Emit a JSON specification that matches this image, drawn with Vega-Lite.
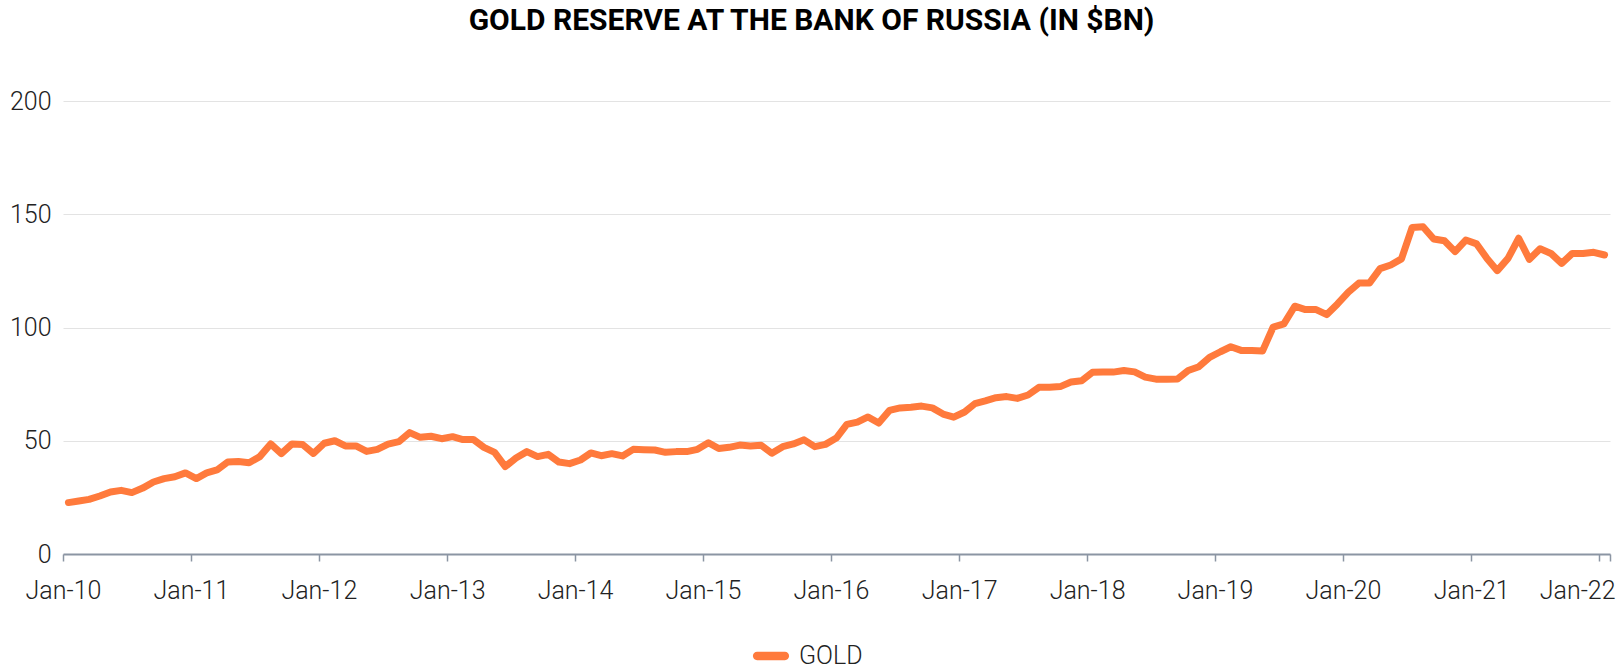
{
  "$schema": "https://vega.github.io/schema/vega-lite/v6.json",
  "autosize": {"type": "none"},
  "width": 1547,
  "height": 453,
  "padding": {"left": 63, "top": 101, "right": 12, "bottom": 118},
  "background": "white",
  "config": {
    "font": "Roboto",
    "view": {"stroke": null}
  },
  "title": {
    "text": "GOLD RESERVE AT THE BANK OF RUSSIA (IN $BN)",
    "font": "Roboto",
    "fontSize": 30,
    "fontWeight": "bold",
    "color": "#000000",
    "anchor": "middle",
    "dx": -25,
    "offset": 53
  },
  "data": {
    "values": [
      {"date": "2010-01-01", "gold": 22.7}, {"date": "2010-02-01", "gold": 23.4}, {"date": "2010-03-01", "gold": 24.1}, {"date": "2010-04-01", "gold": 25.6}, {"date": "2010-05-01", "gold": 27.4}, {"date": "2010-06-01", "gold": 28.1}, {"date": "2010-07-01", "gold": 27.1}, {"date": "2010-08-01", "gold": 29.1}, {"date": "2010-09-01", "gold": 31.8}, {"date": "2010-10-01", "gold": 33.3}, {"date": "2010-11-01", "gold": 34.1}, {"date": "2010-12-01", "gold": 35.8},
      {"date": "2011-01-01", "gold": 33.3}, {"date": "2011-02-01", "gold": 35.8}, {"date": "2011-03-01", "gold": 37.1}, {"date": "2011-04-01", "gold": 40.6}, {"date": "2011-05-01", "gold": 40.8}, {"date": "2011-06-01", "gold": 40.3}, {"date": "2011-07-01", "gold": 43.0}, {"date": "2011-08-01", "gold": 48.6}, {"date": "2011-09-01", "gold": 44.3}, {"date": "2011-10-01", "gold": 48.6}, {"date": "2011-11-01", "gold": 48.3}, {"date": "2011-12-01", "gold": 44.4},
      {"date": "2012-01-01", "gold": 48.9}, {"date": "2012-02-01", "gold": 50.0}, {"date": "2012-03-01", "gold": 47.7}, {"date": "2012-04-01", "gold": 47.7}, {"date": "2012-05-01", "gold": 45.3}, {"date": "2012-06-01", "gold": 46.2}, {"date": "2012-07-01", "gold": 48.5}, {"date": "2012-08-01", "gold": 49.6}, {"date": "2012-09-01", "gold": 53.6}, {"date": "2012-10-01", "gold": 51.5}, {"date": "2012-11-01", "gold": 52.0}, {"date": "2012-12-01", "gold": 50.9},
      {"date": "2013-01-01", "gold": 51.8}, {"date": "2013-02-01", "gold": 50.5}, {"date": "2013-03-01", "gold": 50.6}, {"date": "2013-04-01", "gold": 47.1}, {"date": "2013-05-01", "gold": 44.9}, {"date": "2013-06-01", "gold": 38.6}, {"date": "2013-07-01", "gold": 42.4}, {"date": "2013-08-01", "gold": 45.2}, {"date": "2013-09-01", "gold": 43.0}, {"date": "2013-10-01", "gold": 44.0}, {"date": "2013-11-01", "gold": 40.6}, {"date": "2013-12-01", "gold": 39.9},
      {"date": "2014-01-01", "gold": 41.5}, {"date": "2014-02-01", "gold": 44.6}, {"date": "2014-03-01", "gold": 43.4}, {"date": "2014-04-01", "gold": 44.3}, {"date": "2014-05-01", "gold": 43.3}, {"date": "2014-06-01", "gold": 46.2}, {"date": "2014-07-01", "gold": 46.0}, {"date": "2014-08-01", "gold": 45.9}, {"date": "2014-09-01", "gold": 44.9}, {"date": "2014-10-01", "gold": 45.2}, {"date": "2014-11-01", "gold": 45.2}, {"date": "2014-12-01", "gold": 46.2},
      {"date": "2015-01-01", "gold": 49.1}, {"date": "2015-02-01", "gold": 46.6}, {"date": "2015-03-01", "gold": 47.1}, {"date": "2015-04-01", "gold": 48.1}, {"date": "2015-05-01", "gold": 47.7}, {"date": "2015-06-01", "gold": 48.0}, {"date": "2015-07-01", "gold": 44.5}, {"date": "2015-08-01", "gold": 47.4}, {"date": "2015-09-01", "gold": 48.6}, {"date": "2015-10-01", "gold": 50.4}, {"date": "2015-11-01", "gold": 47.4}, {"date": "2015-12-01", "gold": 48.4},
      {"date": "2016-01-01", "gold": 51.2}, {"date": "2016-02-01", "gold": 57.2}, {"date": "2016-03-01", "gold": 58.2}, {"date": "2016-04-01", "gold": 60.5}, {"date": "2016-05-01", "gold": 57.8}, {"date": "2016-06-01", "gold": 63.4}, {"date": "2016-07-01", "gold": 64.5}, {"date": "2016-08-01", "gold": 64.8}, {"date": "2016-09-01", "gold": 65.3}, {"date": "2016-10-01", "gold": 64.5}, {"date": "2016-11-01", "gold": 61.8}, {"date": "2016-12-01", "gold": 60.4},
      {"date": "2017-01-01", "gold": 62.7}, {"date": "2017-02-01", "gold": 66.4}, {"date": "2017-03-01", "gold": 67.6}, {"date": "2017-04-01", "gold": 69.0}, {"date": "2017-05-01", "gold": 69.5}, {"date": "2017-06-01", "gold": 68.7}, {"date": "2017-07-01", "gold": 70.2}, {"date": "2017-08-01", "gold": 73.6}, {"date": "2017-09-01", "gold": 73.6}, {"date": "2017-10-01", "gold": 73.9}, {"date": "2017-11-01", "gold": 75.9}, {"date": "2017-12-01", "gold": 76.5},
      {"date": "2018-01-01", "gold": 80.2}, {"date": "2018-02-01", "gold": 80.4}, {"date": "2018-03-01", "gold": 80.3}, {"date": "2018-04-01", "gold": 81.0}, {"date": "2018-05-01", "gold": 80.4}, {"date": "2018-06-01", "gold": 78.1}, {"date": "2018-07-01", "gold": 77.2}, {"date": "2018-08-01", "gold": 77.2}, {"date": "2018-09-01", "gold": 77.3}, {"date": "2018-10-01", "gold": 81.0}, {"date": "2018-11-01", "gold": 82.7}, {"date": "2018-12-01", "gold": 86.8},
      {"date": "2019-01-01", "gold": 89.3}, {"date": "2019-02-01", "gold": 91.5}, {"date": "2019-03-01", "gold": 89.9}, {"date": "2019-04-01", "gold": 89.8}, {"date": "2019-05-01", "gold": 89.6}, {"date": "2019-06-01", "gold": 100.2}, {"date": "2019-07-01", "gold": 101.6}, {"date": "2019-08-01", "gold": 109.4}, {"date": "2019-09-01", "gold": 107.9}, {"date": "2019-10-01", "gold": 107.9}, {"date": "2019-11-01", "gold": 105.7}, {"date": "2019-12-01", "gold": 110.4},
      {"date": "2020-01-01", "gold": 115.6}, {"date": "2020-02-01", "gold": 119.6}, {"date": "2020-03-01", "gold": 119.6}, {"date": "2020-04-01", "gold": 126.0}, {"date": "2020-05-01", "gold": 127.6}, {"date": "2020-06-01", "gold": 130.3}, {"date": "2020-07-01", "gold": 144.2}, {"date": "2020-08-01", "gold": 144.5}, {"date": "2020-09-01", "gold": 139.1}, {"date": "2020-10-01", "gold": 138.3}, {"date": "2020-11-01", "gold": 133.5}, {"date": "2020-12-01", "gold": 138.6},
      {"date": "2021-01-01", "gold": 136.9}, {"date": "2021-02-01", "gold": 130.5}, {"date": "2021-03-01", "gold": 125.1}, {"date": "2021-04-01", "gold": 130.5}, {"date": "2021-05-01", "gold": 139.4}, {"date": "2021-06-01", "gold": 130.1}, {"date": "2021-07-01", "gold": 134.8}, {"date": "2021-08-01", "gold": 132.7}, {"date": "2021-09-01", "gold": 128.3}, {"date": "2021-10-01", "gold": 132.7}, {"date": "2021-11-01", "gold": 132.7}, {"date": "2021-12-01", "gold": 133.2},
      {"date": "2022-01-01", "gold": 132.0}
    ]
  },
  "mark": {"type": "line", "strokeWidth": 7, "strokeJoin": "round", "strokeCap": "round"},
  "encoding": {
    "x": {
      "field": "date",
      "type": "temporal",
      "timeUnit": "utcyearmonth",
      "bandPosition": 0.5,
      "title": null,
      "scale": {
        "type": "utc",
        "domain": [
          {"year": 2010, "month": 1, "date": 1, "utc": true},
          {"year": 2022, "month": 2, "date": 1, "utc": true}
        ]
      },
      "axis": {
        "values": [
          {"year": 2010, "month": 1, "date": 1, "utc": true},
          {"year": 2011, "month": 1, "date": 1, "utc": true},
          {"year": 2012, "month": 1, "date": 1, "utc": true},
          {"year": 2013, "month": 1, "date": 1, "utc": true},
          {"year": 2014, "month": 1, "date": 1, "utc": true},
          {"year": 2015, "month": 1, "date": 1, "utc": true},
          {"year": 2016, "month": 1, "date": 1, "utc": true},
          {"year": 2017, "month": 1, "date": 1, "utc": true},
          {"year": 2018, "month": 1, "date": 1, "utc": true},
          {"year": 2019, "month": 1, "date": 1, "utc": true},
          {"year": 2020, "month": 1, "date": 1, "utc": true},
          {"year": 2021, "month": 1, "date": 1, "utc": true},
          {"year": 2022, "month": 1, "date": 1, "utc": true},
          {"year": 2022, "month": 2, "date": 1, "utc": true}
        ],
        "labelExpr": "utcmonth(datum.value) == 0 ? utcFormat(datum.value, '%b-%y') : ''",
        "grid": false,
        "domainColor": "#8b95a3",
        "domainWidth": 2,
        "tickColor": "#8b95a3",
        "tickWidth": 1.5,
        "tickSize": 7,
        "labelFont": "Roboto",
        "labelFontSize": 25,
        "labelFontWeight": 300,
        "labelColor": "#222222",
        "labelPadding": 17,
        "labelOverlap": false,
        "labelFlush": false,
        "labelOffset": {"condition": {"test": "utcyear(datum.value) == 2022", "value": -22}, "value": 0}
      }
    },
    "y": {
      "field": "gold",
      "type": "quantitative",
      "title": null,
      "scale": {"domain": [0, 200], "nice": false, "zero": true},
      "axis": {
        "values": [0, 50, 100, 150, 200],
        "domain": false,
        "ticks": false,
        "gridColor": "#e3e3e3",
        "gridWidth": 1,
        "labelFont": "Roboto",
        "labelFontSize": 25,
        "labelFontWeight": 300,
        "labelColor": "#222222",
        "labelPadding": 12
      }
    },
    "color": {
      "datum": "GOLD",
      "scale": {"range": ["#ff7a3c"]},
      "legend": {
        "title": null,
        "orient": "none",
        "legendX": 680,
        "legendY": 527,
        "direction": "horizontal",
        "symbolType": "M-0.5,-0.15L0.5,-0.15A0.15,0.15 0 0 1 0.5,0.15L-0.5,0.15A0.15,0.15 0 0 1 -0.5,-0.15Z",
        "symbolSize": 3100,
        "symbolFillColor": "#ff7a3c",
        "symbolStrokeWidth": 0,
        "labelFont": "Roboto",
        "labelFontSize": 25,
        "labelFontWeight": 300,
        "labelColor": "#222222",
        "labelOffset": 0,
        "encode": {
          "symbols": {"update": {"fill": {"value": "#ff7a3c"}, "strokeWidth": {"value": 0}}}
        }
      }
    }
  }
}
